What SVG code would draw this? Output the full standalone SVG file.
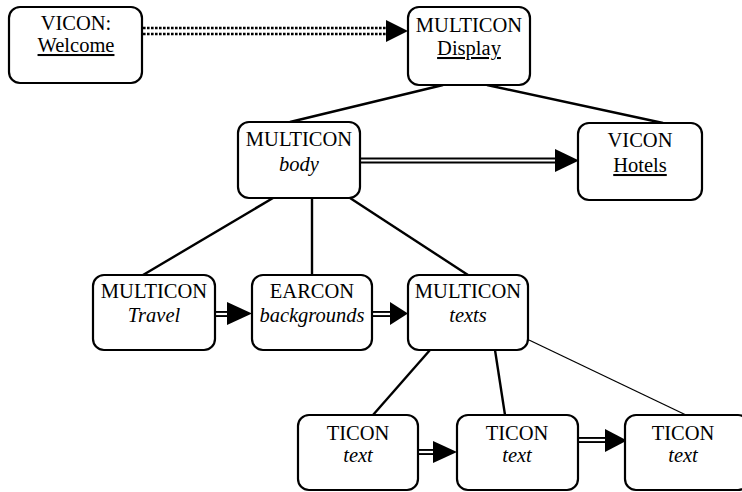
<svg xmlns="http://www.w3.org/2000/svg" width="742" height="492" viewBox="0 0 742 492" font-family="'Liberation Serif', 'Times New Roman', 'DejaVu Serif', serif">
<defs>
<style>
.box{fill:#fff;stroke:#000;stroke-width:2.2}
text{font-family:'Liberation Serif','Times New Roman','DejaVu Serif',serif;font-size:20.5px;fill:#000;text-anchor:middle}
.it{font-style:italic}
.ul{text-decoration:underline}
.tree{stroke:#000;stroke-width:2.4;fill:none}
.thin{stroke:#000;stroke-width:1.3;fill:none}
.dbl-o{stroke:#000;stroke-width:6;fill:none}
.dbl-i{stroke:#fff;stroke-width:2.2;fill:none}
.dot{stroke:#000;stroke-width:2.6;stroke-dasharray:2.6 1.4;fill:none}
.head{fill:#000}
</style>
</defs>
<rect width="742" height="492" fill="#fff"/>
<g id="connectors">
<line class="tree" x1="443" y1="85" x2="290" y2="122"/>
<line class="tree" x1="487" y1="85" x2="663" y2="123"/>
<line class="tree" x1="273" y1="198" x2="143" y2="275"/>
<line class="tree" x1="312" y1="198" x2="312" y2="275"/>
<line class="tree" x1="350" y1="198" x2="468" y2="275"/>
<line class="tree" x1="430" y1="350" x2="373" y2="415"/>
<line class="tree" x1="495" y1="350" x2="505" y2="415"/>
<line class="thin" x1="529" y1="340" x2="686" y2="415"/>
<line class="dot" x1="143" y1="28" x2="387" y2="28"/>
<line class="dot" x1="143" y1="34" x2="387" y2="34"/>
<polygon class="head" points="386,20 408,31 386,42"/>
<line class="dbl-o" x1="360" y1="160.5" x2="556" y2="160.5"/>
<line class="dbl-i" x1="360" y1="160.5" x2="558" y2="160.5"/>
<polygon class="head" points="555,149 579,160.5 555,172"/>
<line class="dbl-o" x1="215" y1="314" x2="228" y2="314"/>
<line class="dbl-i" x1="215" y1="314" x2="230" y2="314"/>
<polygon class="head" points="227,302 252,313.5 227,325"/>
<line class="dbl-o" x1="372" y1="314" x2="391" y2="314"/>
<line class="dbl-i" x1="372" y1="314" x2="393" y2="314"/>
<polygon class="head" points="390,302 408,313.5 390,325"/>
<line class="dbl-o" x1="418" y1="452" x2="434" y2="452"/>
<line class="dbl-i" x1="418" y1="452" x2="436" y2="452"/>
<polygon class="head" points="433,441 457,452 433,463"/>
<line class="dbl-o" x1="578" y1="440" x2="606" y2="440"/>
<line class="dbl-i" x1="578" y1="440" x2="608" y2="440"/>
<polygon class="head" points="605,429 627,440.5 605,452"/>
</g>
<g id="welcome">
<rect class="box" x="9" y="7" width="133" height="76" rx="11"/>
<text x="76" y="30">VICON:</text>
<text class="ul" x="76" y="52">Welcome</text>
</g>
<g id="display">
<rect class="box" x="408" y="7" width="122" height="78" rx="11"/>
<text x="469" y="32">MULTICON</text>
<text class="ul" x="469" y="55">Display</text>
</g>
<g id="body">
<rect class="box" x="238" y="122" width="122" height="76" rx="11"/>
<text x="299" y="146">MULTICON</text>
<text class="it" x="299" y="171">body</text>
</g>
<g id="hotels">
<rect class="box" x="578" y="123" width="124" height="77" rx="11"/>
<text x="640" y="147">VICON</text>
<text class="ul" x="640" y="172">Hotels</text>
</g>
<g id="travel">
<rect class="box" x="93" y="275" width="122" height="75" rx="11"/>
<text x="154" y="298">MULTICON</text>
<text class="it" x="154" y="322">Travel</text>
</g>
<g id="backgrounds">
<rect class="box" x="252" y="275" width="120" height="75" rx="11"/>
<text x="312" y="298">EARCON</text>
<text class="it" x="312" y="322">backgrounds</text>
</g>
<g id="texts">
<rect class="box" x="408" y="275" width="120" height="75" rx="11"/>
<text x="468" y="298">MULTICON</text>
<text class="it" x="468" y="322">texts</text>
</g>
<g id="ticon1">
<rect class="box" x="298" y="415" width="120" height="75" rx="11"/>
<text x="358" y="440">TICON</text>
<text class="it" x="358" y="462">text</text>
</g>
<g id="ticon2">
<rect class="box" x="457" y="415" width="121" height="75" rx="11"/>
<text x="517" y="440">TICON</text>
<text class="it" x="517" y="462">text</text>
</g>
<g id="ticon3">
<rect class="box" x="625" y="415" width="124" height="75" rx="11"/>
<text x="683" y="440">TICON</text>
<text class="it" x="683" y="462">text</text>
</g>
</svg>
